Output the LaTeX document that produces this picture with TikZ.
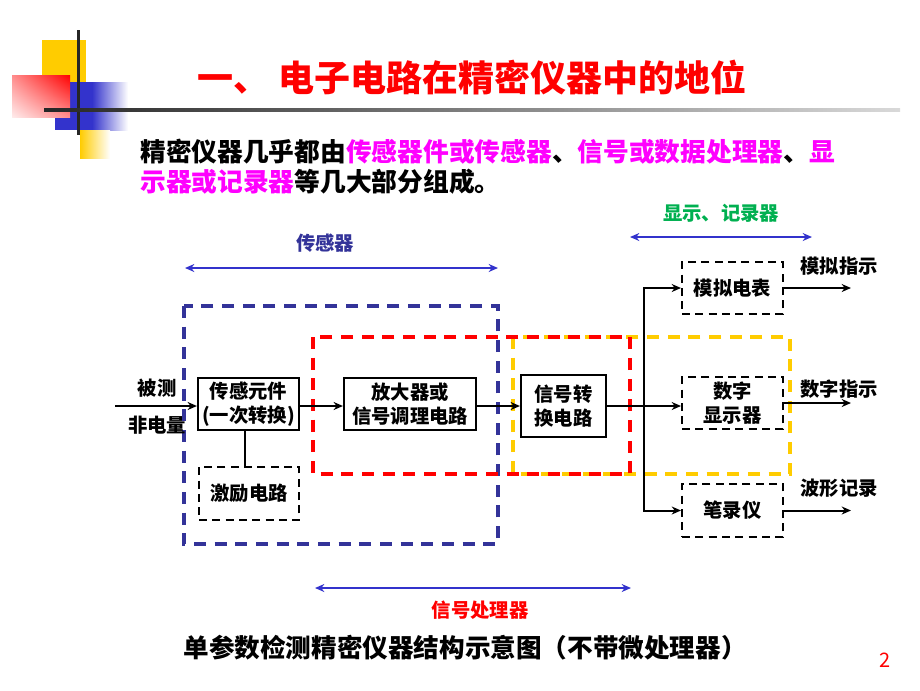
\documentclass[tikz,border=0pt]{standalone}
\usepackage{fontspec}
\setmainfont{Noto Sans CJK SC}
\usetikzlibrary{arrows.meta,positioning,shadings}
\definecolor{titlered}{HTML}{FF0000}
\definecolor{keypink}{HTML}{FF00FF}
\definecolor{sensorblue}{HTML}{333399}
\definecolor{spanblue}{HTML}{3333CC}
\definecolor{showgreen}{HTML}{00B050}
\definecolor{gold}{HTML}{FFCC00}
\definecolor{decoblue}{HTML}{3333CC}

\begin{document}
\begin{tikzpicture}[x=0.75pt, y=-0.75pt,
    block/.style={draw, line width=1.6pt, align=center, inner sep=1pt,
        font=\bfseries\fontsize{14.5}{18.5}\selectfont},
    dashblock/.style={draw, line width=1.5pt, dash pattern=on 6pt off 4pt,
        align=center, inner sep=1pt, font=\bfseries\fontsize{14.5}{18.5}\selectfont},
    label/.style={font=\bfseries\fontsize{14.5}{18.5}\selectfont, align=center},
    flow/.style={line width=1.5pt, -{Stealth[length=7pt, width=6pt]}},
    span/.style={spanblue, line width=2.2pt, {Stealth[length=7pt, width=6pt]}-{Stealth[length=7pt, width=6pt]}},
    region/.style={line width=2.3pt, dash pattern=on 9pt off 6.5pt}]

    \useasboundingbox (0,0) rectangle (920,690);

    % Corner decoration
    \fill[gold] (42,40) rectangle (86,82);
    \fill[decoblue] (55,82) rectangle (92,130);
    \shade[left color=decoblue, right color=white] (92,82) rectangle (128,130);
    \shade[left color=gold, right color=white] (80,130) rectangle (110,158);
    \shade[upper right=red, upper left=red!45!white, lower right=red!45!white,
        lower left=red!8!white] (12,75) rectangle (70,117);
    \fill[black!85] (76.5,30) rectangle (79.5,135);
    \shade[left color=black!85, right color=black!15] (44,108.5) rectangle (900,111.5);

    % Title and intro
    \node[titlered, font=\bfseries\fontsize{27}{31}\selectfont] (title) at (472,78)
        {一、 电子电路在精密仪器中的地位};
    \node[anchor=west, inner sep=0pt, font=\bfseries\fontsize{19.3}{23}\selectfont] (intro1) at (140,152)
        {精密仪器几乎都由\textcolor{keypink}{传感器件或传感器}、\textcolor{keypink}{信号或数据处理器}、\textcolor{keypink}{显}};
    \node[anchor=west, inner sep=0pt, font=\bfseries\fontsize{19.3}{23}\selectfont] (intro2) at (140,182)
        {\textcolor{keypink}{示器或记录器}等几大部分组成。};

    % Dashed regions
    \draw[region, sensorblue] (184,306) rectangle (498,544);
    \draw[region, gold] (513,337) rectangle (790,474);
    \draw[region, red] (313,337) rectangle (630,474);

    % Blocks
    \node[block, minimum width=75.75pt, minimum height=39pt] (sensor) at (248.5,404) {传感元件\\(一次转换)};
    \node[block, minimum width=99pt, minimum height=39pt] (amp) at (410,404) {放大器或\\信号调理电路};
    \node[block, minimum width=63.75pt, minimum height=46.5pt] (conv) at (563.5,406) {信号转\\换电路};
    \node[dashblock, minimum width=75pt, minimum height=39.75pt] (excite) at (249,493.5) {激励电路};
    \node[dashblock, minimum width=75.75pt, minimum height=39pt] (meter) at (732.5,288) {模拟电表};
    \node[dashblock, minimum width=75.75pt, minimum height=39pt] (digital) at (732.5,403) {数字\\显示器};
    \node[dashblock, minimum width=75.75pt, minimum height=39.75pt] (pen) at (732.5,510.5) {笔录仪};

    % Input
    \node[label] (meas1) at (157,388) {被测};
    \node[label] (meas2) at (157,425) {非电量};
    \coordinate (in) at (115,406);
    \draw[flow] (in) -- (in -| sensor.west);

    % Signal path
    \draw[flow] (sensor.east |- in) -- (amp.west |- in);
    \draw[flow] (amp.east |- in) -- (conv.west |- in);
    \draw[flow] (conv.east |- in) -- (digital.west |- in);
    \coordinate (split) at (644,406);
    \draw[flow] (split) |- (meter.west);
    \draw[flow] (split) |- (pen.west);
    \draw[line width=1.6pt] (sensor.south -| 245,0) -- (excite.north -| 245,0);

    % Outputs
    \coordinate (outend) at (851,0);
    \draw[flow] (meter.east) -- (meter.east -| outend);
    \draw[flow] (digital.east) -- (digital.east -| outend);
    \draw[flow] (pen.east) -- (pen.east -| outend);
    \node[label] (show1) at (839,266) {模拟指示};
    \node[label] (show2) at (839,389) {数字指示};
    \node[label] (show3) at (839,488) {波形记录};

    % Spans
    \node[label, sensorblue] (senslbl) at (325,243) {传感器};
    \coordinate (sensL) at (185,268);
    \coordinate (sensR) at (498,268);
    \draw[span] (sensL) -- (sensR);
    \node[label, showgreen] (showlbl) at (721,213) {显示、记录器};
    \coordinate (showL) at (630,237);
    \coordinate (showR) at (812,237);
    \draw[span] (showL) -- (showR);
    \coordinate (procL) at (315,588);
    \coordinate (procR) at (631,588);
    \draw[span] (procL) -- (procR);
    \node[label, red] (proclbl) at (480,610) {信号处理器};

    % Caption
    \node[font=\bfseries\fontsize{19.2}{23}\selectfont] (caption) at (465,648)
        {单参数检测精密仪器结构示意图（不带微处理器）};
    \node[red, font=\fontsize{15}{18}\selectfont] (page) at (885,660) {2};
\end{tikzpicture}
\end{document}
